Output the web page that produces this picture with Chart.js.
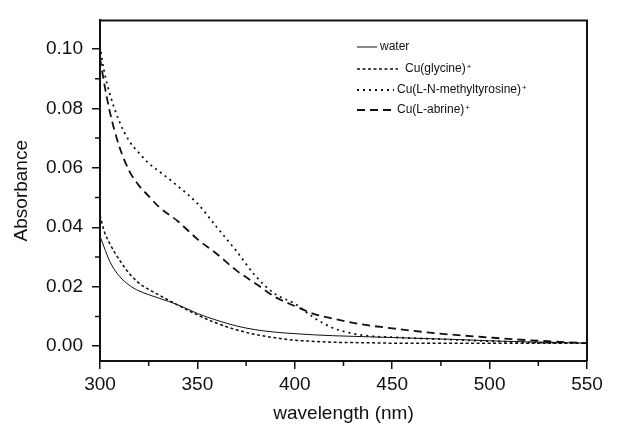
<!DOCTYPE html>
<html>
<head>
<meta charset="utf-8">
<script src="https://cdn.jsdelivr.net/npm/chart.js@4/dist/chart.umd.min.js"></script>
<style>
  body { margin: 0; background: #fff; }
</style>
</head>
<body>
<canvas id="myChart" width="619" height="431"></canvas>
<script>
// wavelength grid (nm) and absorbance
const WAVELENGTH = [300, 302, 305, 310, 315, 320, 325, 330, 340, 350, 360, 370, 380, 390, 400, 410, 420, 430, 440, 450, 460, 480, 500, 520, 550];
const WATER = [0.037, 0.0335, 0.0285, 0.0235, 0.0205, 0.0186, 0.0173, 0.0162, 0.0139, 0.011, 0.0087, 0.0068, 0.0055, 0.0047, 0.0042, 0.0038, 0.0035, 0.0033, 0.0031, 0.0029, 0.0027, 0.0023, 0.0018, 0.0014, 0.001];
const GLYCINE = [0.044, 0.039, 0.0345, 0.029, 0.0245, 0.0212, 0.0191, 0.0173, 0.0138, 0.0105, 0.0077, 0.0055, 0.0039, 0.0028, 0.002, 0.0016, 0.0013, 0.0012, 0.0011, 0.001, 0.001, 0.001, 0.001, 0.001, 0.001];
const METHYLTYROSINE = [0.101, 0.093, 0.085, 0.0755, 0.069, 0.065, 0.0615, 0.059, 0.0538, 0.048, 0.04, 0.032, 0.0235, 0.0175, 0.0143, 0.0095, 0.006, 0.0042, 0.0033, 0.003, 0.0027, 0.0022, 0.0017, 0.0013, 0.001];
const ABRINE = [0.097, 0.089, 0.079, 0.067, 0.059, 0.054, 0.0505, 0.047, 0.042, 0.036, 0.031, 0.0255, 0.021, 0.0165, 0.0135, 0.0108, 0.0092, 0.0078, 0.0068, 0.006, 0.0052, 0.0039, 0.0029, 0.002, 0.001];

const SERIES_LABELS = ['water', 'Cu(glycine)+', 'Cu(L-N-methyltyrosine)+', 'Cu(L-abrine)+'];
const X_TICKS = [300, 350, 400, 450, 500, 550];
const Y_TICKS = [0.00, 0.02, 0.04, 0.06, 0.08, 0.10];

const FONT = "'Liberation Sans', Arial, sans-serif";
const INK = '#111';

function toPoints(ys) {
    return WAVELENGTH.map((x, i) => ({ x: x, y: ys[i] }));
}

function makeDataset(label, ys, dash, width) {
    return {
        label: label,
        data: toPoints(ys),
        borderColor: INK,
        borderWidth: width,
        borderDash: dash,
        pointRadius: 0,
        fill: false,
        cubicInterpolationMode: 'monotone',
    };
}

// legend rows: y, end of the sample line, start of the text
const legend_rows = [
    { y: 47, lineEnd: 377, textX: 380 },
    { y: 69, lineEnd: 398, textX: 405 },
    { y: 90, lineEnd: 394, textX: 397 },
    { y: 110, lineEnd: 394, textX: 397 },
];

// top/right frame, minor ticks and the in-plot legend
const framePlugin = {
    id: 'frame',
    afterDraw(chart) {
        let ctx = chart.ctx;
        let area = chart.chartArea;
        let xs = chart.scales.x;
        let ys = chart.scales.y;
        ctx.save();
        ctx.strokeStyle = INK;
        ctx.lineWidth = 2;
        ctx.beginPath();
        ctx.moveTo(area.left, area.top);
        ctx.lineTo(area.right, area.top);
        ctx.lineTo(area.right, area.bottom);
        ctx.stroke();

        // minor ticks halfway between the labelled ones
        ctx.lineWidth = 1.5;
        ctx.beginPath();
        for (let i = 0; i < X_TICKS.length - 1; i++) {
            let px = xs.getPixelForValue((X_TICKS[i] + X_TICKS[i + 1]) / 2);
            ctx.moveTo(px, area.bottom);
            ctx.lineTo(px, area.bottom + 5);
        }
        for (let i = 0; i < Y_TICKS.length - 1; i++) {
            let py = ys.getPixelForValue((Y_TICKS[i] + Y_TICKS[i + 1]) / 2);
            ctx.moveTo(area.left, py);
            ctx.lineTo(area.left - 5, py);
        }
        ctx.stroke();

        // legend
        chart.data.datasets.forEach((ds, i) => {
            let row = legend_rows[i];
            ctx.strokeStyle = ds.borderColor;
            ctx.lineWidth = ds.borderWidth;
            ctx.setLineDash(ds.borderDash || []);
            ctx.beginPath();
            ctx.moveTo(357, row.y);
            ctx.lineTo(row.lineEnd, row.y);
            ctx.stroke();
            ctx.setLineDash([]);

            ctx.fillStyle = INK;
            ctx.textBaseline = 'middle';
            ctx.textAlign = 'left';
            ctx.font = '12px ' + FONT;
            let text = ds.label;
            let sup = text.endsWith('+');
            if (sup) text = text.slice(0, -1);
            ctx.fillText(text, row.textX, row.y);
            if (sup) {
                let w = ctx.measureText(text).width;
                ctx.font = '8px ' + FONT;
                ctx.fillText('+', row.textX + w + 1, row.y - 2);
            }
        });
        ctx.restore();
    }
};

let ctx = document.getElementById('myChart').getContext('2d');
let myChart = new Chart(ctx, {
    type: 'line',
    data: {
        datasets: [
            makeDataset(SERIES_LABELS[0], WATER, [], 1),
            makeDataset(SERIES_LABELS[1], GLYCINE, [3, 2.5], 1.5),
            makeDataset(SERIES_LABELS[2], METHYLTYROSINE, [2, 4], 1.8),
            makeDataset(SERIES_LABELS[3], ABRINE, [8, 5], 1.8),
        ]
    },
    options: {
        responsive: false,
        animation: false,
        layout: {
            padding: { top: 12, right: 32, left: 0, bottom: 0 }
        },
        plugins: {
            legend: { display: false },
            tooltip: { enabled: false },
        },
        scales: {
            x: {
                type: 'linear',
                min: 300,
                max: 550,
                afterBuildTicks: s => { s.ticks = X_TICKS.map(v => ({ value: v })); },
                afterFit: s => { s.height = 70; },
                grid: {
                    drawOnChartArea: false,
                    drawTicks: true,
                    tickLength: 8,
                    color: INK,
                    lineWidth: 1.5,
                },
                border: { display: true, color: INK, width: 2 },
                ticks: {
                    color: INK,
                    font: { family: FONT, size: 19 },
                    padding: 4,
                    maxRotation: 0,
                    callback: v => v,
                },
                title: {
                    display: true,
                    text: 'wavelength (nm)',
                    color: INK,
                    font: { family: FONT, size: 19 },
                    padding: { top: 0, bottom: 6 },
                }
            },
            y: {
                min: -0.005,
                max: 0.1096,
                afterBuildTicks: s => { s.ticks = Y_TICKS.map(v => ({ value: v })); },
                afterFit: s => { s.width = 100; },
                grid: {
                    drawOnChartArea: false,
                    drawTicks: true,
                    tickLength: 8,
                    color: INK,
                    lineWidth: 1.5,
                },
                border: { display: true, color: INK, width: 2 },
                ticks: {
                    color: INK,
                    font: { family: FONT, size: 19 },
                    padding: 9,
                    callback: v => v.toFixed(2),
                },
                title: {
                    display: true,
                    text: 'Absorbance',
                    color: INK,
                    font: { family: FONT, size: 19 },
                    padding: { top: 10, bottom: 0 },
                }
            }
        }
    },
    plugins: [framePlugin],
});
</script>
</body>
</html>
